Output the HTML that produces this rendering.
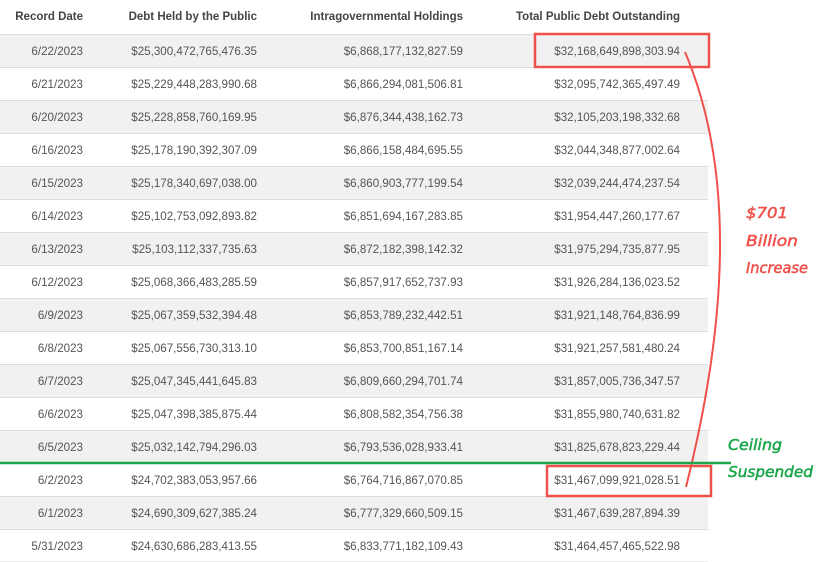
<!DOCTYPE html>
<html><head><meta charset="utf-8"><style>
html,body{margin:0;padding:0;background:#fff;}
svg{display:block;font-family:"Liberation Sans",sans-serif;}
.h{font-size:11.5px;font-weight:bold;fill:#444;text-anchor:end}
.c{font-size:11.6px;fill:#555;text-anchor:end}
.a{font-family:"DejaVu Sans",sans-serif;font-style:italic;font-size:15px;stroke-width:0.5px;}
</style></head><body>
<svg width="817" height="562" viewBox="0 0 817 562">
<rect width="817" height="562" fill="#fff"/>
<g id="rows"></g>
<text class="h" x="83" y="20">Record Date</text>
<text class="h" x="257" y="20">Debt Held by the Public</text>
<text class="h" x="463" y="20">Intragovernmental Holdings</text>
<text class="h" x="680" y="20">Total Public Debt Outstanding</text>
<g id="body"></g>
<path d="M685,52 C735,170 728,320 686,487" fill="none" stroke="#f0504a" stroke-width="2"/>
<rect x="535" y="34" width="174" height="33" fill="none" stroke="#f0504a" stroke-width="2.5"/>
<rect x="547" y="466" width="164" height="30" fill="none" stroke="#f0504a" stroke-width="2.5"/>
<line x1="0" y1="463" x2="731" y2="463" stroke="#1aa64a" stroke-width="2.5"/>
<g fill="#f0504a" stroke="#f0504a">
<text class="a" x="746" y="218" textLength="42" lengthAdjust="spacingAndGlyphs">$701</text>
<text class="a" x="746" y="246" textLength="52" lengthAdjust="spacingAndGlyphs">Billion</text>
<text class="a" x="746" y="273" textLength="62" lengthAdjust="spacingAndGlyphs">Increase</text>
</g>
<g fill="#1aa64a" stroke="#1aa64a">
<text class="a" x="728" y="450" textLength="54" lengthAdjust="spacingAndGlyphs">Ceiling</text>
<text class="a" x="728" y="477" textLength="85" lengthAdjust="spacingAndGlyphs">Suspended</text>
</g>
</svg>
<script>
var d=[["6/22/2023","$25,300,472,765,476.35","$6,868,177,132,827.59","$32,168,649,898,303.94"],
["6/21/2023","$25,229,448,283,990.68","$6,866,294,081,506.81","$32,095,742,365,497.49"],
["6/20/2023","$25,228,858,760,169.95","$6,876,344,438,162.73","$32,105,203,198,332.68"],
["6/16/2023","$25,178,190,392,307.09","$6,866,158,484,695.55","$32,044,348,877,002.64"],
["6/15/2023","$25,178,340,697,038.00","$6,860,903,777,199.54","$32,039,244,474,237.54"],
["6/14/2023","$25,102,753,092,893.82","$6,851,694,167,283.85","$31,954,447,260,177.67"],
["6/13/2023","$25,103,112,337,735.63","$6,872,182,398,142.32","$31,975,294,735,877.95"],
["6/12/2023","$25,068,366,483,285.59","$6,857,917,652,737.93","$31,926,284,136,023.52"],
["6/9/2023","$25,067,359,532,394.48","$6,853,789,232,442.51","$31,921,148,764,836.99"],
["6/8/2023","$25,067,556,730,313.10","$6,853,700,851,167.14","$31,921,257,581,480.24"],
["6/7/2023","$25,047,345,441,645.83","$6,809,660,294,701.74","$31,857,005,736,347.57"],
["6/6/2023","$25,047,398,385,875.44","$6,808,582,354,756.38","$31,855,980,740,631.82"],
["6/5/2023","$25,032,142,794,296.03","$6,793,536,028,933.41","$31,825,678,823,229.44"],
["6/2/2023","$24,702,383,053,957.66","$6,764,716,867,070.85","$31,467,099,921,028.51"],
["6/1/2023","$24,690,309,627,385.24","$6,777,329,660,509.15","$31,467,639,287,894.39"],
["5/31/2023","$24,630,686,283,413.55","$6,833,771,182,109.43","$31,464,457,465,522.98"]];
var ns="http://www.w3.org/2000/svg",R=document.getElementById("rows"),B=document.getElementById("body");
function el(p,t,a,txt){var e=document.createElementNS(ns,t);for(var k in a)e.setAttribute(k,a[k]);if(txt)e.textContent=txt;p.appendChild(e);}
var xs=[83,257,463,680];
for(var i=0;i<d.length;i++){var y=34+i*33;
if(i%2==0)el(R,"rect",{x:0,y:y,width:708,height:33,fill:"#f1f1f1"});
el(R,"line",{x1:0,y1:y+0.5,x2:708,y2:y+0.5,stroke:"#dcdcdc","stroke-width":1});
for(var j=0;j<4;j++)el(B,"text",{"class":"c",x:xs[j],y:y+21},d[i][j]);}
el(R,"line",{x1:0,y1:562,x2:708,y2:562,stroke:"#dcdcdc"});
</script>
</body></html>
